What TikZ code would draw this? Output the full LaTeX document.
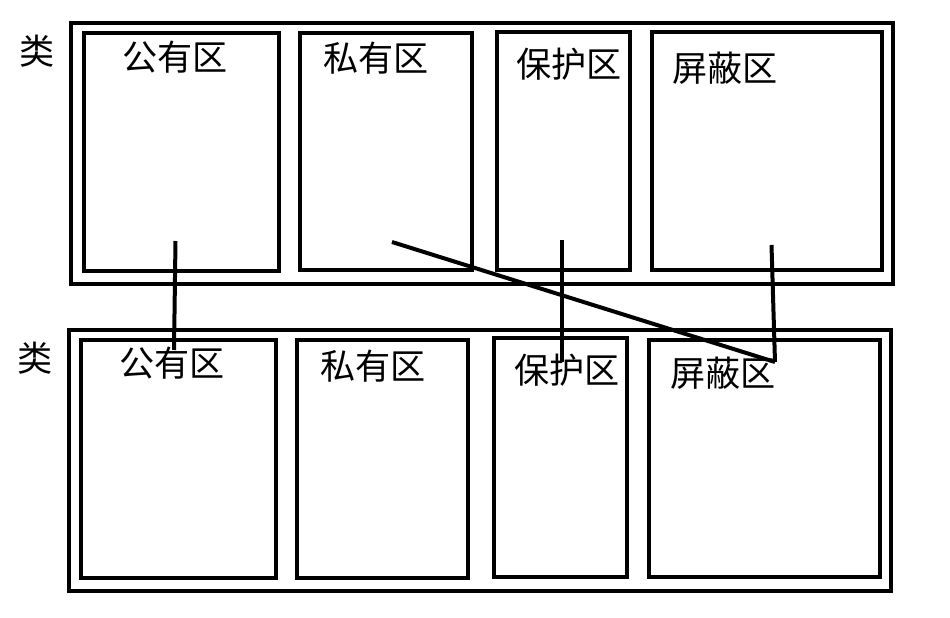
\documentclass[tikz,border=0pt]{standalone}
\usepackage{fontspec}
\newfontfamily\cjk{Noto Sans CJK SC}
\usetikzlibrary{positioning}

\begin{document}
\begin{tikzpicture}[
    x=0.02cm,y=-0.02cm,
    font=\cjk\fontsize{20}{22}\selectfont,
    outerbox/.style={draw=black,line width=0.08cm,minimum width=16.43cm,minimum height=5.22cm,inner sep=0pt},
    zone/.style={draw=black,line width=0.08cm,minimum height=4.76cm,inner sep=0pt},
    zonelabel/.style={inner sep=0pt,text=black},
    classlabel/.style={inner sep=0pt,text=black},
    link/.style={draw=black,line width=0.08cm}
  ]
    \useasboundingbox (0,0) rectangle (950,618);

    % upper class
    \node[outerbox] (classA) at (482,153.5) {};
    \node[classlabel] (classAtxt) at (37,51) {类};
    \node[zone,minimum width=3.90cm] (pubA) at (181.5,152) {};
    \node[zone,minimum width=3.44cm] (priA) at (386,151.5) {};
    \node[zone,minimum width=2.66cm] (proA) at (563.5,151) {};
    \node[zone,minimum width=4.60cm] (hidA) at (767,151) {};
    \node[zonelabel] (pubAtxt) at (175,57) {公有区};
    \node[zonelabel] (priAtxt) at (376,58) {私有区};
    \node[zonelabel] (proAtxt) at (569,64) {保护区};
    \node[zonelabel] (hidAtxt) at (725,68) {屏蔽区};

    % lower class
    \node[outerbox,minimum width=16.44cm] (classB) at (480,460.5) {};
    \node[classlabel] (classBtxt) at (35,358) {类};
    \node[zone,minimum width=3.90cm] (pubB) at (178.5,459) {};
    \node[zone,minimum width=3.42cm] (priB) at (382.5,459) {};
    \node[zone,minimum width=2.66cm,minimum height=4.78cm] (proB) at (560.5,457.5) {};
    \node[zone,minimum width=4.62cm,minimum height=4.74cm] (hidB) at (764.5,458.5) {};
    \node[zonelabel] (pubBtxt) at (172,363) {公有区};
    \node[zonelabel] (priBtxt) at (373,366) {私有区};
    \node[zonelabel] (proBtxt) at (567,370) {保护区};
    \node[zonelabel] (hidBtxt) at (723,373) {屏蔽区};

    % links between the two classes
    \coordinate (pubAend) at (175.5,241);
    \coordinate (pubBend) at (174,350);
    \coordinate (priAend) at (392,242);
    \coordinate (hidBend) at (775,362);
    \coordinate (proAend) at (561.5,240);
    \coordinate (proBend) at (561.5,362);
    \coordinate (hidAend) at (771.5,245);
    \draw[link] (pubAend) -- (pubBend);
    \draw[link] (priAend) -- (hidBend);
    \draw[link] (proAend) -- (proBend);
    \draw[link] (hidAend) -- (hidBend);
  \end{tikzpicture}
\end{document}
